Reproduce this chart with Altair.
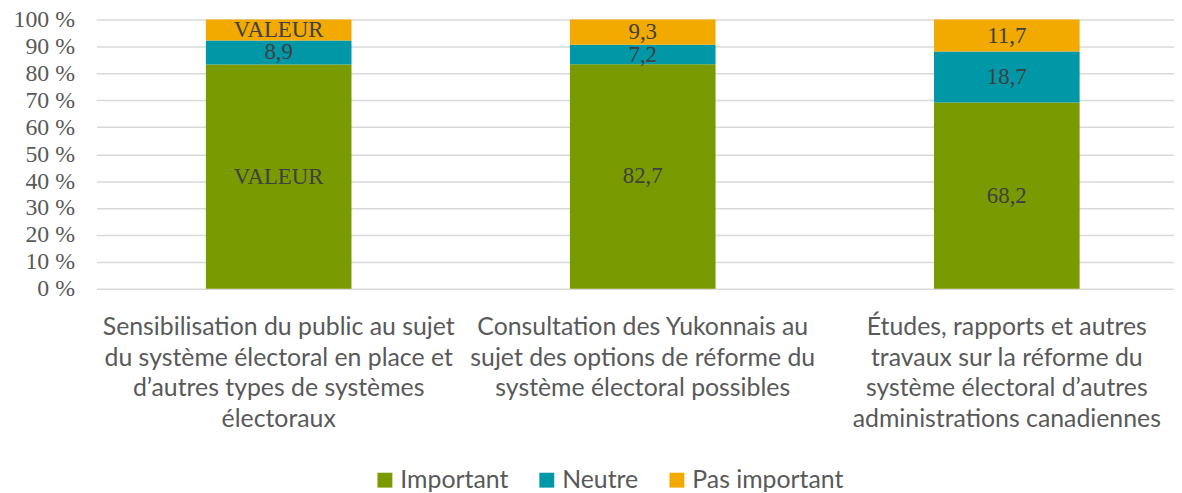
import altair as alt
import pandas as pd

category_lines = [
    ["Sensibilisation du public au sujet", "du système électoral en place et", "d’autres types de systèmes", "électoraux"],
    ["Consultation des Yukonnais au", "sujet des options de réforme du", "système électoral possibles"],
    ["Études, rapports et autres", "travaux sur la réforme du", "système électoral d’autres", "administrations canadiennes"],
]
categories = ["|".join(l) for l in category_lines]

series = ["Important", "Neutre", "Pas important"]
colors = ["#7a9a01", "#0097a7", "#f2a900"]

important = [82.9, 82.7, 68.2]
neutre = [8.9, 7.2, 18.7]
pas_important = [7.7, 9.3, 11.7]

labels_important = ["VALEUR", "82,7", "68,2"]
labels_neutre = ["8,9", "7,2", "18,7"]
labels_pas = ["VALEUR", "9,3", "11,7"]

y_ticks = [0, 10, 20, 30, 40, 50, 60, 70, 80, 90, 100]

rows = []
for s_i, (s, vals, labs) in enumerate(zip(series, [important, neutre, pas_important],
                                        [labels_important, labels_neutre, labels_pas])):
    for c, v, l in zip(categories, vals, labs):
        rows.append({"cat": c, "serie": s, "order": s_i, "value": v, "label": l})
df = pd.DataFrame(rows)

base = alt.Chart(df).transform_joinaggregate(
    total="sum(value)", groupby=["cat"]
).transform_window(
    cum="sum(value)", groupby=["cat"], sort=[alt.SortField("order")], frame=[None, 0]
).transform_calculate(
    y1="100 * datum.cum / datum.total",
    y0="100 * (datum.cum - datum.value) / datum.total",
    ym="100 * (datum.cum - datum.value / 2) / datum.total",
)

xaxis = alt.Axis(labelExpr="split(datum.value, '|')", labelAngle=0,
                 labelFont="Lato", labelFontSize=25, labelColor="#595959",
                 labelLineHeight=31, labelPadding=26, labelBaseline="top",
                 ticks=False, domain=False, labelLimit=0, title=None)
xscale = alt.Scale(paddingInner=0.6, paddingOuter=0.28, align=0.537)

yaxis = alt.Axis(values=y_ticks, labelExpr="datum.value + ' %'",
                 labelFont="Liberation Serif", labelFontSize=24, labelColor="#595959",
                 labelPadding=22, ticks=False, domain=False, labelOverlap=False,
                 gridColor="#d9d9d9", gridWidth=1.5, title=None)
yscale = alt.Scale(domain=[0, 100])

bars = base.mark_bar().encode(
    x=alt.X("cat:N", sort=categories, scale=xscale, axis=xaxis),
    y=alt.Y("y0:Q", scale=yscale, axis=yaxis),
    y2="y1:Q",
    color=alt.Color("serie:N", scale=alt.Scale(domain=series, range=colors),
                    legend=alt.Legend(title=None, orient="none", direction="horizontal",
                                      legendX=278, legendY=451,
                                      symbolType="square", symbolSize=225,
                                      symbolStrokeWidth=0,
                                      labelFont="Lato", labelFontSize=25,
                                      labelColor="#595959", columnPadding=26,
                                      labelOffset=3)),
    order=alt.Order("order:Q"),
)

texts = base.mark_text(font="Liberation Serif", fontSize=23, color="#404040",
                       baseline="middle").encode(
    x=alt.X("cat:N", sort=categories, scale=xscale, axis=xaxis),
    y=alt.Y("ym:Q", scale=yscale, axis=yaxis),
    text="label:N",
)

chart = (bars + texts).properties(
    width=1085, height=271,
    autosize=alt.AutoSizeParams(type="none"),
    padding={"left": 89, "top": 10, "right": 0, "bottom": 204},
).configure_view(stroke=None)

chart.save("out.html", embed_options={"renderer": "svg", "actions": False})
